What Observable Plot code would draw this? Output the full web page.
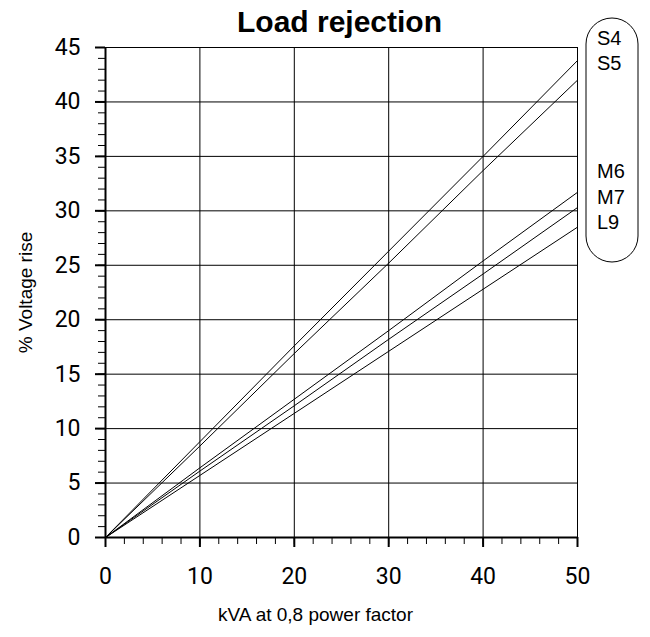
<!DOCTYPE html>
<html>
<head>
<meta charset="utf-8">
<script src="https://cdn.jsdelivr.net/npm/d3@7"></script>
<script src="https://cdn.jsdelivr.net/npm/@observablehq/plot@0.6"></script>
<style>
  html, body { margin: 0; padding: 0; background: #fff; }
  #chart svg { display: block; }
</style>
</head>
<body>
<div id="chart"></div>
<script>
// ---- data ----
const kva = [0, 10, 20, 30, 40, 50];
const seriesNames = ["S4", "S5", "M6", "M7", "L9"];
const S4 = [0, 8.8, 17.6, 26.3, 35.0, 43.8];
const S5 = [0, 8.4, 16.9, 25.2, 33.7, 42.0];
const M6 = [0, 6.4, 12.7, 19.0, 25.4, 31.7];
const M7 = [0, 6.1, 12.1, 18.2, 24.2, 30.3];
const L9 = [0, 5.7, 11.4, 17.1, 22.8, 28.5];
const xTicks = [0, 10, 20, 30, 40, 50];
const yTicks = [0, 5, 10, 15, 20, 25, 30, 35, 40, 45];
const title = "Load rejection";
const xLabel = "kVA at 0,8 power factor";
const yLabel = "% Voltage rise";

const values = {S4, S5, M6, M7, L9};
const rows = [];
for (const s of seriesNames) {
  values[s].forEach((v, i) => rows.push({series: s, x: kva[i], y: v}));
}

const minorX = d3.range(0, 51, 2);
const minorY = d3.range(0, 46, 1);

const chart = Plot.plot({
  width: 650,
  height: 637,
  marginLeft: 105,
  marginRight: 73,
  marginTop: 47,
  marginBottom: 100,
  style: {fontFamily: "'Liberation Sans', Arial, sans-serif", background: "#fff", color: "#000"},
  x: {domain: [0, 50], label: null},
  y: {domain: [0, 45], label: null},
  marks: [
    Plot.gridX(xTicks.slice(1), {stroke: "#000", strokeOpacity: 1, strokeWidth: 1}),
    Plot.gridY(yTicks.slice(1), {stroke: "#000", strokeOpacity: 1, strokeWidth: 1}),
    // minor ticks
    Plot.axisY(minorY, {tickSize: 7, text: null, stroke: "#000", strokeWidth: 1, label: null}),
    Plot.axisX(minorX, {tickSize: 7, text: null, stroke: "#000", strokeWidth: 1, label: null}),
    // major ticks
    Plot.axisY(yTicks, {tickSize: 10, text: null, stroke: "#000", strokeWidth: 2, label: null}),
    Plot.axisX(xTicks, {tickSize: 10, text: null, stroke: "#000", strokeWidth: 2, label: null}),
    // tick labels
    Plot.axisY(yTicks, {tickSize: 0, tickPadding: 25, fontSize: 23, fontFamily: "Roboto, sans-serif", label: null}),
    Plot.axisX(xTicks, {tickSize: 0, tickPadding: 30, fontSize: 23, fontFamily: "Roboto, sans-serif", label: null}),
    // axis lines
    Plot.ruleX([0], {stroke: "#000", strokeWidth: 2}),
    Plot.ruleY([0], {stroke: "#000", strokeWidth: 2}),
    // data lines
    Plot.line(rows, {x: "x", y: "y", z: "series", stroke: "#000", strokeWidth: 1}),
    // texts
    Plot.text([title], {frameAnchor: "top", dy: -37, dx: -2, fontSize: 30, fontWeight: "bold", textAnchor: "middle"}),
    Plot.text([xLabel], {frameAnchor: "bottom", dy: 83, dx: -26, fontSize: 19, textAnchor: "middle"}),
    Plot.text([yLabel], {frameAnchor: "left", dx: -80, dy: 0, rotate: -90, fontSize: 19, textAnchor: "middle"})
  ]
});

// legend box (decoration)
const svg = d3.select(chart);
const g = svg.append("g");
g.append("rect")
  .attr("x", 586).attr("y", 18).attr("width", 52).attr("height", 244)
  .attr("rx", 26).attr("ry", 26)
  .attr("fill", "none").attr("stroke", "#000").attr("stroke-width", 1);
const legendY = [38, 63, 171, 197, 222];
seriesNames.forEach((s, i) => {
  g.append("text")
    .attr("x", 597).attr("y", legendY[i]).attr("dy", "0.35em")
    .attr("text-anchor", "start")
    .attr("font-size", 20).attr("font-family", "'Liberation Sans', Arial, sans-serif")
    .attr("fill", "#000")
    .text(s);
});

document.getElementById("chart").appendChild(chart);
</script>
</body>
</html>
